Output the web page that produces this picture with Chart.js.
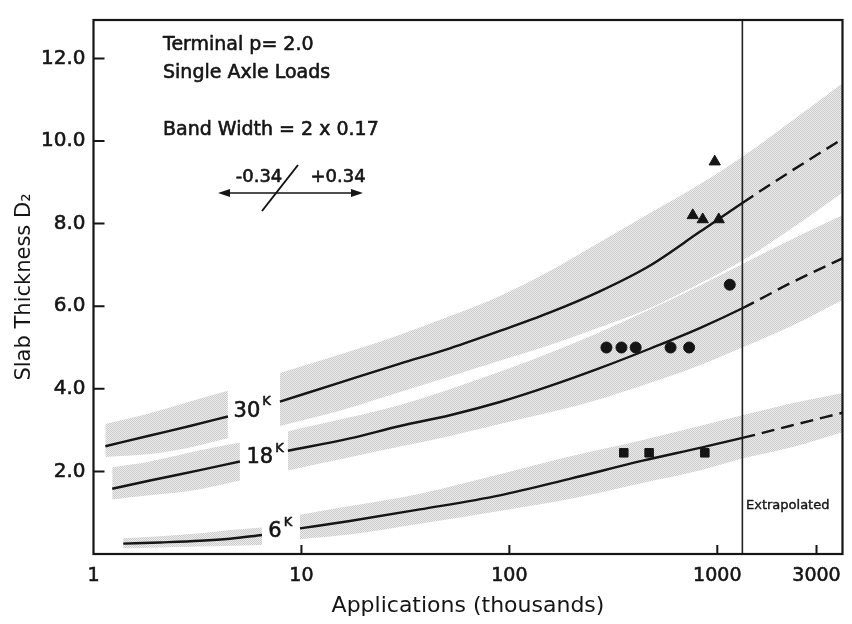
<!DOCTYPE html>
<html><head><meta charset="utf-8">
<script src="https://cdn.jsdelivr.net/npm/chart.js@4.4.0/dist/chart.umd.min.js"></script>
<style>html,body{margin:0;padding:0;background:#fff}#wrap{width:852px;height:624px}</style>
</head><body><div id="wrap"><canvas id="c" width="852" height="624"></canvas></div>
<script>
// ---- data (x = applications in thousands, y = slab thickness D2) ----
const xTicks = [1, 10, 100, 1000, 3000];
const yTicks = [2, 4, 6, 8, 10, 12];
const extrapolationStart = 1320;

const apps30 = [1.14, 1.87, 2.91, 4.43, 5.9, 7.88, 15.3, 29.8, 51.8, 90, 157, 272, 473, 824, 1320, 2230, 4000];
const d30    = [2.61, 2.87, 3.10, 3.33, null, 3.69, 4.15, 4.61, 4.98, 5.40, 5.85, 6.36, 6.98, 7.80, 8.50, 9.25, 10.05];
const d30Hi  = [3.15, 3.41, 3.69, 3.95, null, 4.38, 4.83, 5.31, 5.76, 6.25, 6.86, 7.55, 8.25, 8.95, 9.62, 10.45, 11.40];
const d30Lo  = [2.35, 2.42, 2.58, 2.80, null, 3.10, 3.47, 3.92, 4.30, 4.68, 5.06, 5.49, 5.95, 6.55, 7.10, 7.85, 8.75];

const apps18 = [1.23, 1.87, 3.25, 5.06, 6.6, 8.61, 17.1, 29.8, 51.8, 90, 157, 272, 473, 824, 1320, 2230, 4000];
const d18    = [1.58, 1.78, 2.03, 2.24, null, 2.50, 2.80, 3.10, 3.36, 3.68, 4.07, 4.50, 4.97, 5.47, 5.95, 6.55, 7.16];
const d18Hi  = [2.10, 2.24, 2.51, 2.70, null, 2.97, 3.31, 3.61, 3.99, 4.41, 4.87, 5.37, 5.92, 6.50, 7.02, 7.60, 8.20];
const d18Lo  = [1.32, 1.42, 1.57, 1.78, null, 2.02, 2.34, 2.60, 2.86, 3.15, 3.43, 3.75, 4.14, 4.57, 5.00, 5.50, 6.15];

const apps6 = [1.39, 2.09, 3.25, 4.53, 6.46, 8.0, 9.84, 17.1, 37.1, 90, 195, 438, 824, 1320, 2230, 4000];
const d6    = [0.25, 0.28, 0.32, 0.37, 0.46, null, 0.62, 0.80, 1.08, 1.42, 1.82, 2.26, 2.57, 2.81, 3.10, 3.42];
const d6Hi  = [0.38, 0.43, 0.50, 0.58, 0.64, null, 0.95, 1.16, 1.46, 1.93, 2.36, 2.76, 3.10, 3.36, 3.64, 3.90];
const d6Lo  = [0.14, 0.16, 0.18, 0.20, 0.22, null, 0.36, 0.47, 0.73, 1.04, 1.33, 1.72, 2.02, 2.31, 2.57, 2.95];

const triApps = [762, 851, 1016, 972];
const triD    = [8.20, 8.10, 8.10, 9.50];
const circApps = [293, 346, 405, 596, 732, 1148];
const circD    = [5.0, 5.0, 5.0, 5.0, 5.0, 6.52];
const sqApps = [355, 470, 871];
const sqD    = [2.45, 2.45, 2.45];

const FONT = "'DejaVu Sans', 'Liberation Sans', sans-serif";
const INK = '#151515';

const canvas = document.getElementById('c');
const ctx0 = canvas.getContext('2d');
function stipple(ctx){
  const p = document.createElement('canvas'); p.width = 2; p.height = 2;
  const g = p.getContext('2d');
  g.fillStyle = '#ececec'; g.fillRect(0,0,2,2);
  g.fillStyle = '#cbcbcb'; g.fillRect(0,0,1,1); g.fillRect(1,1,1,1);
  return ctx.createPattern(p, 'repeat');
}
const bandFill = stipple(ctx0);

function segments(xs, ys){
  const out = []; let cur = [];
  xs.forEach((x, i) => {
    if (ys[i] == null) { if (cur.length) out.push(cur); cur = []; }
    else cur.push({x: x, y: ys[i]});
  });
  if (cur.length) out.push(cur);
  return out;
}
function pts(xs, ys){ return xs.map((x, i) => ({x: x, y: ys[i]})); }

const datasets = [];
[[apps30, d30, d30Hi, d30Lo], [apps18, d18, d18Hi, d18Lo], [apps6, d6, d6Hi, d6Lo]].forEach(c => {
  const his = segments(c[0], c[2]), los = segments(c[0], c[3]);
  his.forEach((h, i) => {
    datasets.push({data: h, fill: '+1', backgroundColor: bandFill, borderWidth: 0, pointRadius: 0, order: 3, cubicInterpolationMode: 'monotone'});
    datasets.push({data: los[i], fill: false, borderWidth: 0, pointRadius: 0, order: 3, cubicInterpolationMode: 'monotone'});
  });
});
[[apps30, d30], [apps18, d18], [apps6, d6]].forEach(c => {
  segments(c[0], c[1]).forEach(s => {
    datasets.push({data: s, fill: false, borderColor: INK, borderWidth: 2.4, pointRadius: 0, order: 2,
      cubicInterpolationMode: 'monotone', borderCapStyle: 'butt',
      segment: {borderDash: ctx => ctx.p0.parsed.x >= extrapolationStart - 1 ? [13, 7] : undefined}});
  });
});
datasets.push({data: [{x: extrapolationStart, y: 0}, {x: extrapolationStart, y: 13}], borderColor: '#222', borderWidth: 1.6, pointRadius: 0, fill: false, order: 2});
datasets.push({data: pts(triApps, triD), showLine: false, pointStyle: 'triangle', pointRadius: 6.5, backgroundColor: INK, borderColor: INK, borderWidth: 1, order: 1});
datasets.push({data: pts(circApps, circD), showLine: false, pointStyle: 'circle', pointRadius: 5.5, backgroundColor: INK, borderColor: INK, borderWidth: 1, order: 1});
datasets.push({data: pts(sqApps, sqD), showLine: false, pointStyle: 'rect', pointRadius: 6, backgroundColor: INK, borderColor: INK, borderWidth: 1, order: 1});

function boldText(ctx, t, x, y){ ctx.fillText(t, x, y); ctx.strokeText(t, x, y); }

const decor = {
  id: 'decor',
  afterDraw(chart){
    const ctx = chart.ctx, ca = chart.chartArea, xs = chart.scales.x, ys = chart.scales.y;
    ctx.save();
    ctx.strokeStyle = INK; ctx.fillStyle = INK;
    // frame
    ctx.lineWidth = 2.2;
    ctx.strokeRect(ca.left, ca.top, ca.right - ca.left, ca.bottom - ca.top);
    // inward ticks
    ctx.lineWidth = 2;
    ctx.beginPath();
    yTicks.forEach(v => { const py = ys.getPixelForValue(v); ctx.moveTo(ca.left, py); ctx.lineTo(ca.left + 11, py); });
    xTicks.slice(1).forEach(v => { const px = xs.getPixelForValue(v); ctx.moveTo(px, ca.bottom); ctx.lineTo(px, ca.bottom - 9); });
    ctx.stroke();
    // arrow
    ctx.lineWidth = 1.6;
    ctx.beginPath(); ctx.moveTo(222, 193); ctx.lineTo(358, 193); ctx.stroke();
    ctx.beginPath(); ctx.moveTo(218, 193); ctx.lineTo(230, 189); ctx.lineTo(230, 197); ctx.closePath(); ctx.fill();
    ctx.beginPath(); ctx.moveTo(363, 193); ctx.lineTo(351, 189); ctx.lineTo(351, 197); ctx.closePath(); ctx.fill();
    ctx.lineWidth = 2;
    ctx.beginPath(); ctx.moveTo(262, 211); ctx.lineTo(298, 165); ctx.stroke();
    // notes
    ctx.lineWidth = 0.6; ctx.lineJoin = 'round';
    ctx.textBaseline = 'middle'; ctx.textAlign = 'left';
    ctx.font = '19px ' + FONT;
    boldText(ctx, 'Terminal p= 2.0', 163, 45);
    boldText(ctx, 'Single Axle Loads', 163, 73);
    boldText(ctx, 'Band Width = 2 x 0.17', 163, 130);
    ctx.font = '18px ' + FONT;
    ctx.textAlign = 'center';
    boldText(ctx, '-0.34', 259, 177);
    boldText(ctx, '+0.34', 338, 177);
    // extrapolated label
    ctx.font = '13px ' + FONT; ctx.textAlign = 'left'; ctx.lineWidth = 0.4;
    boldText(ctx, 'Extrapolated', 746, 506);
    // curve labels
    ctx.lineWidth = 0.6;
    [['30', 5.47, 3.46], ['18', 6.31, 2.33], ['6', 7.46, 0.54]].forEach(l => {
      const px = xs.getPixelForValue(l[1]), py = ys.getPixelForValue(l[2]);
      ctx.font = '21px ' + FONT; ctx.textAlign = 'center';
      boldText(ctx, l[0], px, py);
      const w = ctx.measureText(l[0]).width;
      ctx.font = '13px ' + FONT; ctx.textAlign = 'left';
      boldText(ctx, 'K', px + w / 2 + 2, py - 9);
    });
    ctx.restore();
  }
};

new Chart(canvas, {
  type: 'line',
  data: {datasets: datasets},
  options: {
    responsive: false, animation: false,
    layout: {padding: {top: 12, right: 9, bottom: 0, left: 0}},
    plugins: {legend: {display: false}, tooltip: {enabled: false}},
    elements: {line: {tension: 0}},
    scales: {
      x: {
        type: 'logarithmic', min: 1, max: 4000,
        grid: {display: false, drawTicks: false}, border: {display: false},
        afterBuildTicks: s => { s.ticks = xTicks.map(v => ({value: v})); },
        afterFit: s => { s.height = 70; },
        ticks: {autoSkip: false, maxRotation: 0, padding: 11, color: INK, font: {family: FONT, size: 19},
          textStrokeColor: INK, textStrokeWidth: 0.6,
          callback: v => String(v)},
        title: {display: true, text: 'Applications (thousands)', color: INK, font: {family: FONT, size: 22}, padding: {top: 0, bottom: 5}}
      },
      y: {
        type: 'linear', min: 0, max: 12.93,
        grid: {display: false, drawTicks: false}, border: {display: false},
        afterFit: s => { s.width = 93.5; },
        ticks: {stepSize: 2, includeBounds: false, padding: 8, color: INK, font: {family: FONT, size: 20},
          textStrokeColor: INK, textStrokeWidth: 0.6,
          callback: v => v === 0 ? '' : v.toFixed(1)},
        title: {display: true, text: 'Slab Thickness D\u2082', color: INK, font: {family: FONT, size: 21}, padding: {top: 12, bottom: 0}}
      }
    }
  },
  plugins: [decor]
});
</script>
</body></html>
